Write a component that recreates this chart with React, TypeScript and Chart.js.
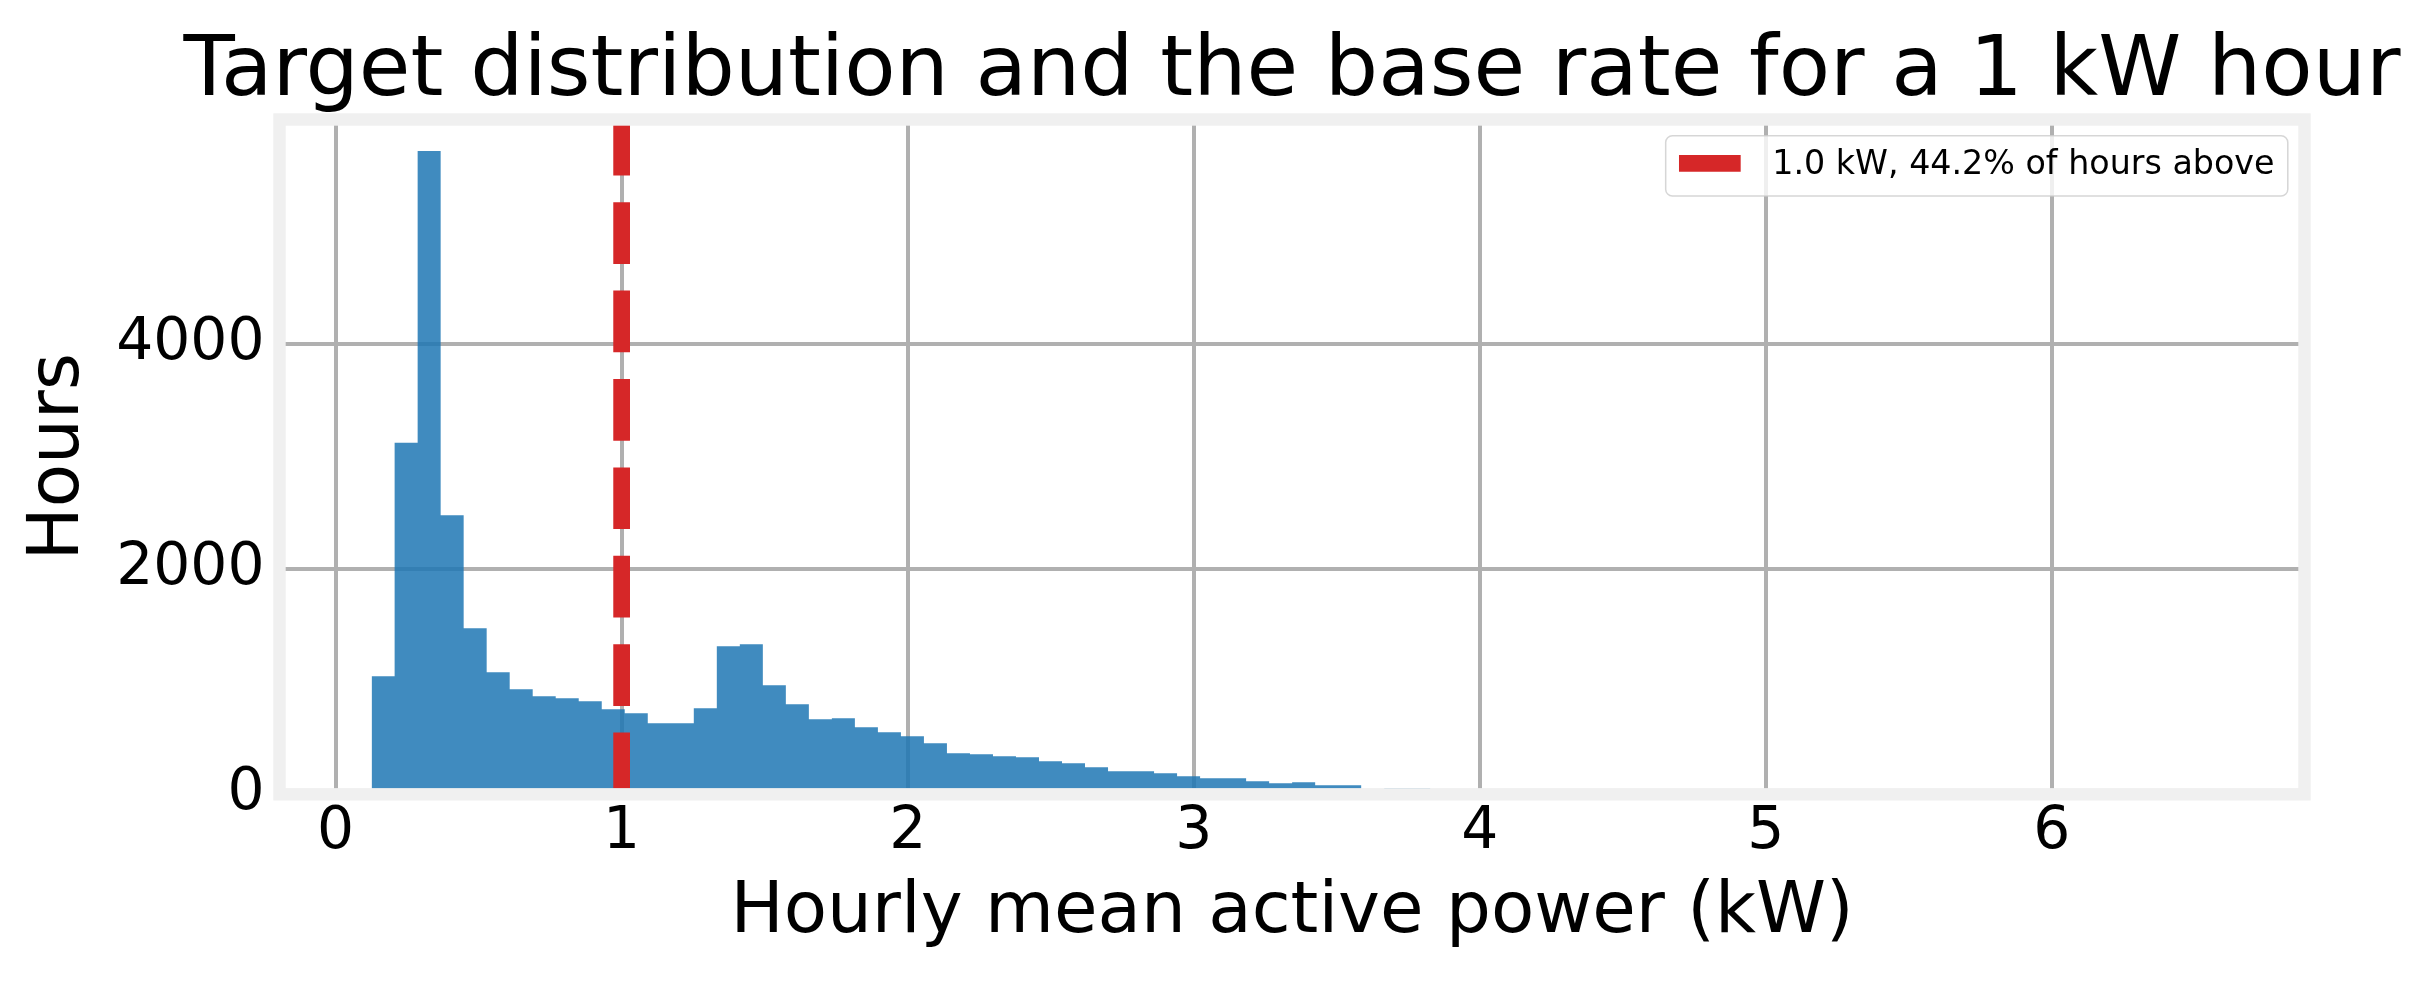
// App.tsx
import React, { useEffect, useRef } from 'react';
import { Chart, registerables } from 'chart.js';

Chart.register(...registerables);

// Histogram of hourly mean active power: 80 equal bins
const binStart = 0.126;
const binWidth = 0.08045;
const hourCounts = [
  1049, 3123, 5716, 2480, 1476, 1084, 933, 871, 853, 827,
  756, 720, 631, 631, 764, 1316, 1333, 969, 800, 667,
  676, 596, 551, 516, 453, 364, 356, 338, 329, 293,
  276, 240, 204, 204, 187, 160, 142, 142, 116, 98,
  107, 80, 80, 38, 55, 55, 30, 24, 19, 15,
  12, 9, 7, 6, 5, 4, 3, 3, 2, 2,
  2, 1, 1, 1, 1, 0, 1, 0, 1, 0,
  0, 1, 0, 0, 0, 0, 1, 0, 0, 1,
];

const xTicks = [0, 1, 2, 3, 4, 5, 6];
const yTicks = [0, 2000, 4000];
const xRange = [-0.196, 6.883];
const yRange = [0, 5996];

const thresholdKw = 1.0;
const thresholdLabel = '1.0 kW, 44.2% of hours above';

const titleText = 'Target distribution and the base rate for a 1 kW hour';
const xLabel = 'Hourly mean active power (kW)';
const yLabel = 'Hours';

const FONT = '"DejaVu Sans", sans-serif';
const BAR_BLUE = 'rgba(31, 119, 180, 0.85)';
const RED = '#d62728';
const GRID = '#b0b0b0';
const FRAME = '#f0f0f0';

// matplotlib-like title centred over the axes, 25px above the frame
const axesTitlePlugin = {
  id: 'axesTitle',
  afterDraw(chart: any) {
    const { ctx, chartArea: a } = chart;
    ctx.save();
    ctx.font = `84px ${FONT}`;
    ctx.fillStyle = '#000';
    ctx.textAlign = 'center';
    ctx.textBaseline = 'alphabetic';
    ctx.fillText(titleText, (a.left + a.right) / 2, a.top - 25);
    ctx.restore();
  },
};

// thick light-grey frame drawn over the bars
const framePlugin = {
  id: 'frame',
  afterDatasetsDraw(chart: any) {
    const { ctx, chartArea: a } = chart;
    ctx.save();
    ctx.strokeStyle = FRAME;
    ctx.lineWidth = 12.4;
    ctx.strokeRect(a.left, a.top, a.right - a.left, a.bottom - a.top);
    ctx.restore();
  },
};

// boxed legend in the upper right corner of the axes
const legendBoxPlugin = {
  id: 'legendBox',
  afterDraw(chart: any) {
    const { ctx, chartArea: a } = chart;
    const ds = chart.data.datasets[0];
    const fs = 33.3;
    const pad = 0.4 * fs;
    const handleLen = 2 * fs;
    const gap = 0.8 * fs;

    ctx.save();
    ctx.font = `${fs}px ${FONT}`;
    const textW = ctx.measureText(ds.label).width;
    const boxW = pad + handleLen + gap + textW + pad;
    const boxH = 60.3;
    const right = a.right - 16.7;
    const left = right - boxW;
    const top = a.top + 16.2;

    ctx.beginPath();
    ctx.roundRect(left, top, boxW, boxH, 6.7);
    ctx.fillStyle = 'rgba(255, 255, 255, 0.8)';
    ctx.fill();
    ctx.strokeStyle = 'rgba(204, 204, 204, 0.8)';
    ctx.lineWidth = 1.5;
    ctx.stroke();

    const hy = top + 27.6;
    ctx.beginPath();
    ctx.setLineDash(ds.borderDash);
    ctx.strokeStyle = ds.borderColor;
    ctx.lineWidth = ds.borderWidth;
    ctx.moveTo(left + pad, hy);
    ctx.lineTo(left + pad + handleLen, hy);
    ctx.stroke();
    ctx.setLineDash([]);

    ctx.fillStyle = '#000';
    ctx.textAlign = 'left';
    ctx.textBaseline = 'alphabetic';
    ctx.fillText(ds.label, left + pad + handleLen + gap, top + 38.6);
    ctx.restore();
  },
};

const HistogramChart: React.FC = () => {
  const canvasRef = useRef<HTMLCanvasElement>(null);

  useEffect(() => {
    if (!canvasRef.current) return;

    // bin edges -> one step per bin, drawn as a single filled area (no seams between bins)
    const steps = hourCounts.map((count, i) => ({ x: binStart + i * binWidth, y: count }));
    steps.push({ x: binStart + hourCounts.length * binWidth, y: hourCounts[hourCounts.length - 1] });

    const chart = new Chart(canvasRef.current, {
      type: 'line',
      data: {
        datasets: [
          {
            label: thresholdLabel,
            data: [
              { x: thresholdKw, y: yRange[0] },
              { x: thresholdKw, y: yRange[1] },
            ],
            borderColor: RED,
            borderWidth: 16.7,
            borderDash: [61.7, 26.7],
            pointRadius: 0,
            fill: false,
            order: 0,
          } as any,
          {
            label: 'hours',
            data: steps,
            stepped: 'before',
            backgroundColor: BAR_BLUE,
            borderWidth: 0,
            pointRadius: 0,
            fill: 'origin',
            order: 1,
          } as any,
        ],
      },
      options: {
        responsive: false,
        animation: false,
        devicePixelRatio: 1,
        events: [],
        layout: { padding: { left: 0, top: 119.5, right: 124.5, bottom: 0 } },
        plugins: {
          legend: { display: false },
          tooltip: { enabled: false },
          title: { display: false },
        },
        scales: {
          x: {
            type: 'linear',
            min: xRange[0],
            max: xRange[1],
            offset: false,
            afterBuildTicks: (scale: any) => {
              scale.ticks = xTicks.map((value) => ({ value }));
            },
            afterFit: (scale: any) => {
              scale.height = 189.7;
            },
            grid: { color: GRID, lineWidth: 4, drawTicks: false, offset: false },
            border: { display: false },
            ticks: {
              padding: 4,
              color: '#000',
              font: { family: FONT, size: 58.3 },
              callback: (v: any) => String(v),
            },
            title: {
              display: true,
              text: xLabel,
              color: '#000',
              font: { family: FONT, size: 70.8 },
              padding: { top: 0, bottom: 28.3 },
            },
          },
          y: {
            type: 'linear',
            min: yRange[0],
            max: yRange[1],
            afterBuildTicks: (scale: any) => {
              scale.ticks = yTicks.map((value) => ({ value }));
            },
            afterFit: (scale: any) => {
              scale.width = 279.5;
            },
            grid: { color: GRID, lineWidth: 4, drawTicks: false },
            border: { display: false },
            ticks: {
              padding: 15,
              color: '#000',
              font: { family: FONT, size: 58.3 },
              callback: (v: any) => String(v),
            },
            title: {
              display: true,
              text: yLabel,
              color: '#000',
              font: { family: FONT, size: 70.8 },
              padding: { top: 17, bottom: 0 },
            },
          },
        },
      } as any,
      plugins: [framePlugin, axesTitlePlugin, legendBoxPlugin],
    });

    return () => {
      chart.destroy();
    };
  }, []);

  return (
    <div style={{ position: 'fixed', left: 0, top: 0, width: 2429, height: 984, background: '#fff' }}>
      <canvas ref={canvasRef} width={2429} height={984} style={{ width: 2429, height: 984 }} />
    </div>
  );
};

export default function App() {
  return <HistogramChart />;
}
